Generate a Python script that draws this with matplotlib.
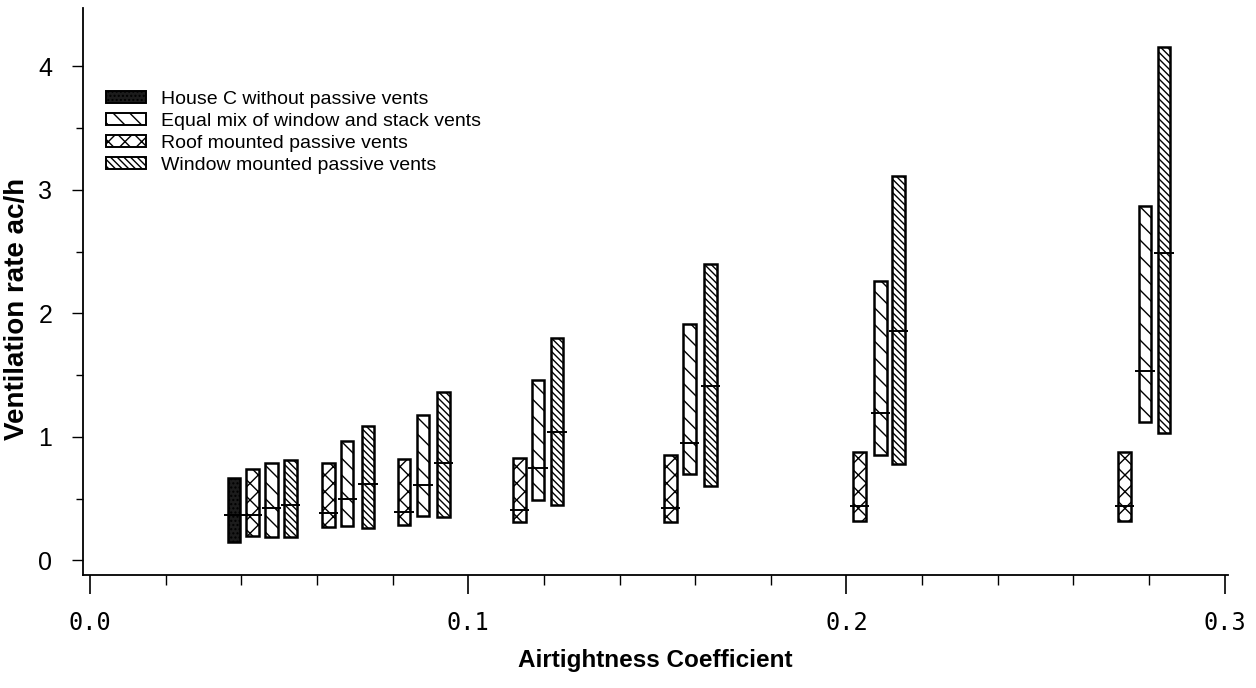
import numpy as np
import matplotlib.pyplot as plt
from matplotlib.patches import Patch

plt.rcParams['font.family'] = ['Liberation Sans', 'DejaVu Sans']
plt.rcParams['hatch.linewidth'] = 1.0

# --- data (ac/h) ---
labels = ["House C without passive vents",
          "Equal mix of window and stack vents",
          "Roof mounted passive vents",
          "Window mounted passive vents"]

house_x = [0.038]
house_low = [0.15]
house_med = [0.37]
house_high = [0.67]

roof_x = [0.043, 0.063, 0.083, 0.1135, 0.1535, 0.2035, 0.2735]
roof_low = [0.20, 0.27, 0.29, 0.31, 0.31, 0.32, 0.315]
roof_med = [0.37, 0.38, 0.39, 0.41, 0.42, 0.44, 0.44]
roof_high = [0.74, 0.785, 0.82, 0.83, 0.85, 0.875, 0.88]

equal_x = [0.048, 0.068, 0.088, 0.1185, 0.1585, 0.209, 0.279]
equal_low = [0.19, 0.275, 0.36, 0.49, 0.70, 0.85, 1.12]
equal_med = [0.42, 0.50, 0.61, 0.75, 0.95, 1.19, 1.53]
equal_high = [0.785, 0.97, 1.18, 1.46, 1.91, 2.26, 2.87]

window_x = [0.053, 0.0735, 0.0935, 0.1235, 0.164, 0.2138, 0.284]
window_low = [0.19, 0.26, 0.35, 0.45, 0.60, 0.78, 1.03]
window_med = [0.445, 0.62, 0.785, 1.04, 1.41, 1.855, 2.49]
window_high = [0.81, 1.09, 1.36, 1.80, 2.40, 3.11, 4.16]

# style per series: (facecolor, hatch)
styles = [("#1c1c1c", "...."), ("white", "\\\\"), ("white", "xx"), ("white", "\\\\\\\\\\")]
series = [
    (house_x, house_low, house_med, house_high),
    (equal_x, equal_low, equal_med, equal_high),
    (roof_x, roof_low, roof_med, roof_high),
    (window_x, window_low, window_med, window_high),
]

fig = plt.figure(figsize=(12.56, 6.88), dpi=100)
ax = fig.add_axes([0.066, 0.164, 0.912, 0.824])

bw = 0.0033
for (xs, lo, md, hi), (fc, hatch) in zip(series, styles):
    xs = np.asarray(xs)
    lo = np.asarray(lo)
    hi = np.asarray(hi)
    ax.bar(xs, hi - lo, bottom=lo, width=bw, facecolor=fc, edgecolor="black",
           hatch=hatch, linewidth=1.8, zorder=2)
    ax.hlines(md, xs - bw * 0.78, xs + bw * 0.78, color="black", lw=1.4, zorder=3)

# axes
ax.set_xlim(-0.0019, 0.301)
ax.set_ylim(-0.12, 4.47)
ax.spines["top"].set_visible(False)
ax.spines["right"].set_visible(False)
ax.spines["left"].set_linewidth(1.3)
ax.spines["bottom"].set_linewidth(1.3)

ax.set_xticks([0.0, 0.1, 0.2, 0.3])
ax.set_xticklabels(["0.0", "0.1", "0.2", "0.3"], family="DejaVu Sans Mono", fontsize=17)
ax.set_xticks(np.arange(0, 0.3001, 0.02), minor=True)
ax.tick_params(axis="x", which="major", length=14, width=1.2, pad=12)
ax.tick_params(axis="x", which="minor", length=7, width=1.0)

ax.set_yticks([0, 1, 2, 3, 4])
ax.set_yticklabels(["0", "1", "2", "3", "4"], fontsize=18)
ax.set_yticks(np.arange(0, 4.01, 0.5), minor=True)
ax.tick_params(axis="y", which="major", length=8, width=1.0, pad=14)
ax.tick_params(axis="y", which="minor", length=5, width=1.0)

ax.set_xlabel("Airtightness Coefficient", fontsize=17.5, fontweight="bold", labelpad=10)
ax.set_ylabel("Ventilation rate ac/h", fontsize=20, fontweight="bold")
ax.yaxis.set_label_coords(-0.046, 0.47)

handles = [Patch(facecolor=fc, edgecolor="black", hatch=h, linewidth=1.4) for fc, h in styles]
ax.legend(handles, labels, loc="upper left", bbox_to_anchor=(0.013, 0.868),
          frameon=False, fontsize=14, handlelength=2.1, handleheight=0.6,
          labelspacing=0.25, handletextpad=0.75, borderaxespad=0)

fig.savefig("out.png", dpi=100)
